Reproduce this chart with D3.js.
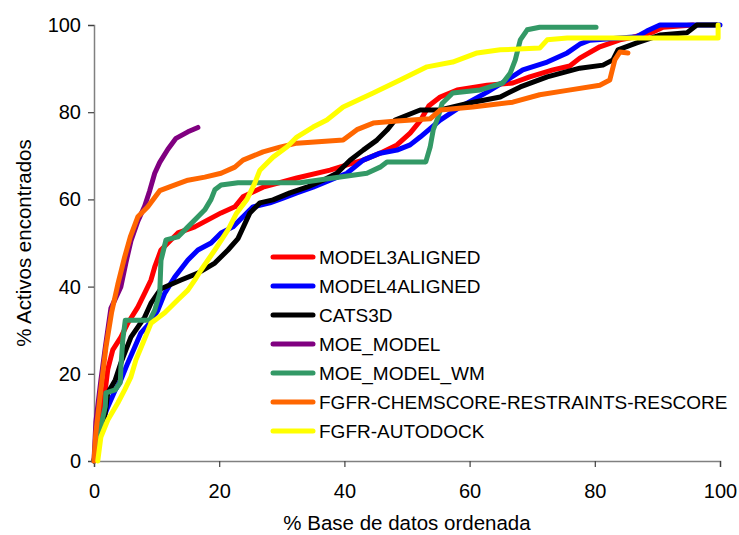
<!DOCTYPE html>
<html>
<head>
<meta charset="utf-8">
<script src="https://cdn.jsdelivr.net/npm/d3@7"></script>
<style>
  body { margin: 0; background: #fff; }
  text { font-family: Arial, "Liberation Sans", sans-serif; fill: #000; }
</style>
</head>
<body>
<div id="chart"></div>
<script>
// series names (legend order)
const seriesNames = ["MODEL3ALIGNED", "MODEL4ALIGNED", "CATS3D", "MOE_MODEL",
  "MOE_MODEL_WM", "FGFR-CHEMSCORE-RESTRAINTS-RESCORE", "FGFR-AUTODOCK"];
const seriesColors = ["#ff0000", "#0000ff", "#000000", "#800080", "#339966", "#ff6600", "#ffff00"];
const xTicks = [0, 20, 40, 60, 80, 100];
const yTicks = [0, 20, 40, 60, 80, 100];

// [% base de datos, % activos]
const model3 = [[0,0],[1.1,8.7],[1.8,16.3],[2.2,21],[3,25.5],[4.3,28.4],[5.4,31.6],[7,35.3],[8.1,38.5],[9.1,41.5],
  [9.7,44.5],[10.7,48.4],[11.8,50],[13.4,52.3],[16.1,53.7],[18.2,55.3],[20.3,56.9],[22.5,58.3],[23.8,60.6],[27,62.8],
  [32.4,64.9],[37.7,66.7],[40.4,67.9],[43,69],[45.7,70.6],[48.4,72.5],[50.5,75.2],[52.1,78],[53.5,81.5],[55.3,83.5],
  [58,85.1],[62.8,86.2],[66.9,86.7],[69.6,88.1],[73.3,89.7],[76,90.6],[77.6,92.4],[80.8,95],[84,96.6],[86.1,97.2],
  [89.3,98.4],[90.9,99.5],[95.7,100]];
const model4 = [[0,0],[0.6,6.4],[1.4,9.4],[2.2,12.4],[3.4,16.3],[4.3,18.6],[5.4,22.5],[6.5,26.1],[7.5,29.4],[8.9,31.6],
  [10.2,34.6],[11.3,38.5],[12.3,40.8],[12.9,42.2],[15,46.1],[16.6,48.4],[18.7,50],[20.3,52.3],[22.2,53.7],[23.8,56],
  [25.4,58.3],[28.1,59.2],[30.2,60.3],[32.4,61.5],[35,62.8],[37.7,64.4],[40.4,66],[43,69],[45.7,70.6],[48.4,71.3],
  [50.5,72.5],[52.1,74.3],[55.3,78.2],[58.5,81.2],[62.8,84.6],[66,87.4],[68.5,89.7],[72.4,91.5],[75.6,93.6],[77.6,95.6],
  [79.2,96.5],[86.7,97.3],[88.3,98.6],[90.4,100],[100,100]];
const cats3d = [[0,0],[1.1,6.4],[1.8,11],[2.2,15.6],[3.4,18.6],[4.3,22.5],[5.1,25.5],[5.9,28.4],[7,30.7],[8.1,33],
  [9.1,36.2],[10.7,39.5],[13.9,41.5],[16.6,43.1],[19.3,45.4],[21.4,48.4],[23,51],[24.9,56.9],[26.5,59.2],
  [28.6,59.9],[31.3,61.5],[34,62.8],[36.6,64.4],[38.8,66],[40.9,69],[43,71.3],[45.2,73.6],[46.8,75.9],[48.1,78.2],
  [52.1,80.5],[55.3,80.5],[60,82.1],[64.9,83.5],[68.1,85.8],[72.4,88.1],[77.6,90.1],[81.3,90.8],[82.9,92],[83.7,94.3],
  [86.7,95.9],[90.4,97.7],[94.7,98.2],[96.3,100],[99.5,100]];
const moeModel = [[0,0],[0.3,9],[1.1,18.5],[1.8,26],[2.7,35],[4.3,40],[5.1,45.5],[5.9,50.5],[7,55],[8.1,58.5],
  [8.9,62],[9.7,66],[10.5,68.5],[11.8,71.5],[13.1,74],[15,75.5],[16.6,76.5]];
const moeModelWm = [[0,0],[1.1,8],[1.8,12.5],[1.9,15.6],[3.4,16.3],[4.2,18],[4.3,21.6],[4.6,27.8],[5,32.3],[8.9,32.3],
  [9.7,34.6],[10.5,38.5],[10.7,46],[11.5,50.7],[13.4,51.4],[15,53.7],[16.6,56],[17.7,57.6],[18.7,60],[19.3,62.2],
  [20.3,63.3],[23,63.8],[32.9,63.8],[38.2,64.9],[43.6,66],[45.7,67.4],[46.8,68.6],[53,68.6],[53.7,72],[54.2,76],
  [55,79],[55.6,82],[57.3,84.4],[61.7,85.1],[65.3,86.7],[66.5,89],[67.3,92],[68.1,96.6],[69.2,98.9],[71.2,99.5],[80.2,99.5]];
const chemscore = [[0,0],[0.3,6.5],[1.1,16.5],[1.9,26],[2.8,34],[3.8,40.5],[4.9,46.8],[5.8,51.4],[7,56],[8.6,58.3],
  [10.5,62],[12.3,63],[15,64.4],[17.7,65.1],[20.3,66],[22.5,67.4],[23.8,69],[27,70.9],[29.7,72],[32.4,72.9],
  [39.8,73.6],[42,76],[44.6,77.5],[48.4,78],[53.7,78.5],[55.3,80.5],[60.5,81.2],[66.9,82.3],[71.2,84],[75.6,85],
  [80.8,86.2],[82.4,87.4],[83.2,92],[84,93.8],[85.3,93.6]];
const autodock = [[0.6,0],[1.1,5.5],[2.2,9.4],[3.8,13.3],[4.9,16.3],[5.9,19.3],[6.7,23.2],[7.8,27],[9.1,31.6],[11.3,34],
  [13.4,37],[15,39.2],[16.1,41.5],[17.1,43.8],[19.3,48.4],[21.4,53],[22.8,56.9],[24.4,59.9],[25.7,63.8],[26.5,66.7],
  [28.6,69.7],[30.8,72],[32.4,74.3],[35,76.6],[37.2,78.2],[39.8,81.2],[44.6,84.4],[48.9,87.4],[53.2,90.4],[57.3,91.5],
  [61.2,93.6],[64.9,94.3],[71.2,94.7],[72.4,96.6],[75.6,97],[99.7,97],[99.7,100]];

const allSeries = [model3, model4, cats3d, moeModel, moeModelWm, chemscore, autodock];

const width = 739, height = 535;
const margin = {top: 25, right: 19, bottom: 74, left: 94};

const svg = d3.select("#chart").append("svg")
  .attr("width", width)
  .attr("height", height);

const x = d3.scaleLinear().domain([0, 100]).range([margin.left, width - margin.right]);
const y = d3.scaleLinear().domain([0, 100]).range([height - margin.bottom, margin.top]);

// axes
const xAxis = svg.append("g")
  .attr("transform", `translate(0,${height - margin.bottom})`)
  .call(d3.axisBottom(x).tickValues(xTicks).tickSize(6).tickPadding(17));
const yAxis = svg.append("g")
  .attr("transform", `translate(${margin.left},0)`)
  .call(d3.axisLeft(y).tickValues(yTicks).tickSize(6).tickPadding(7));

[xAxis, yAxis].forEach(g => {
  g.select(".domain").attr("stroke", "#808080").attr("stroke-width", 1.5);
  g.selectAll(".tick line").attr("stroke", "#404040").attr("stroke-width", 1.2);
  g.selectAll(".tick text").attr("font-size", 20).attr("fill", "#000")
    .style("font-family", "Arial, 'Liberation Sans', sans-serif");
});

// lines
const line = d3.line().x(d => x(d[0])).y(d => y(d[1]));
svg.append("g")
  .selectAll("path")
  .data(allSeries)
  .enter().append("path")
  .attr("d", line)
  .attr("fill", "none")
  .attr("stroke", (d, i) => seriesColors[i])
  .attr("stroke-width", 5)
  .attr("stroke-linejoin", "round")
  .attr("stroke-linecap", "round");

// legend
const legend = svg.append("g").attr("transform", "translate(273,257)");
const rows = legend.selectAll("g")
  .data(seriesNames)
  .enter().append("g")
  .attr("transform", (d, i) => `translate(0,${i * 29})`);
rows.append("line")
  .attr("x1", 0).attr("x2", 40)
  .attr("stroke", (d, i) => seriesColors[i])
  .attr("stroke-width", 5)
  .attr("stroke-linecap", "round");
rows.append("text")
  .attr("x", 46)
  .attr("dy", "0.36em")
  .attr("font-size", 19)
  .text(d => d);

// axis titles
svg.append("text")
  .attr("x", (margin.left + width - margin.right) / 2)
  .attr("y", 530)
  .attr("text-anchor", "middle")
  .attr("font-size", 20.5)
  .text("% Base de datos ordenada");
svg.append("text")
  .attr("transform", `translate(31,${(margin.top + height - margin.bottom) / 2}) rotate(-90)`)
  .attr("text-anchor", "middle")
  .attr("font-size", 20.5)
  .text("% Activos encontrados");
</script>
</body>
</html>
